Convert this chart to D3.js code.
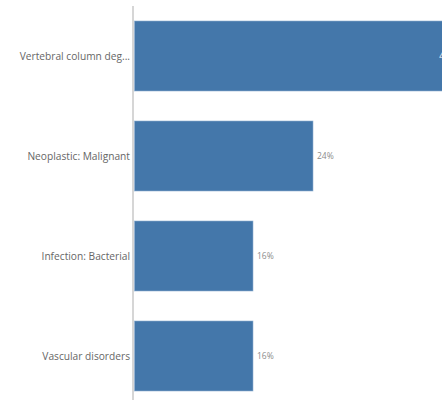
<!DOCTYPE html>
<html>
<head>
<meta charset="utf-8">
<script src="https://cdn.jsdelivr.net/npm/d3@7"></script>
<style>
  body{margin:0;overflow:hidden;background:#fff}
  svg{display:block}
</style>
</head>
<body>
<svg></svg>
<script>
var categories=["Vertebral column deg...","Neoplastic: Malignant","Infection: Bacterial","Vascular disorders"]
var values=[44,24,16,16]

var svg=d3.select("svg")
svg.attr("width",442).attr("height",400)

var x0=133
var scaleX=d3.scaleLinear()
      .domain([0,44])
      .range([x0,x0+330])
var scaleY=d3.scaleBand()
      .domain(categories)
      .range([6,406])
      .paddingInner(0.3)
      .paddingOuter(0.15)

// axis line on the left
svg.append("line")
   .attr("x1",x0).attr("x2",x0)
   .attr("y1",6).attr("y2",400)
   .attr("stroke","#c8c8c8")
   .attr("stroke-width",1.5)

var groups=svg.selectAll("g.bar")
   .data(values)
   .enter()
   .append("g")
   .attr("class","bar")

groups.append("rect")
      .attr("x",scaleX(0)+1.5)
      .attr("y",(d,i)=>scaleY(categories[i]))
      .attr("width",d=>scaleX(d)-scaleX(0)-1.5)
      .attr("height",scaleY.bandwidth())
      .attr("fill","#4477aa")
      .attr("stroke","#8fb0d0")
      .attr("stroke-width",0.6)

groups.append("text")
      .text((d,i)=>categories[i])
      .attr("x",x0-3)
      .attr("y",(d,i)=>scaleY(categories[i])+scaleY.bandwidth()/2)
      .attr("dy","0.35em")
      .attr("text-anchor","end")
      .style("font-family","'Open Sans', sans-serif")
      .style("font-size","10.2px")
      .style("fill","#666666")

// value labels: inside the bar if it is long, outside otherwise
groups.append("text")
      .text(d=>d+"%")
      .attr("x",d=>d>30 ? scaleX(d)-7 : scaleX(d)+4)
      .attr("y",(d,i)=>scaleY(categories[i])+scaleY.bandwidth()/2)
      .attr("dy","0.35em")
      .attr("text-anchor",d=>d>30 ? "end" : "start")
      .style("font-family","'Open Sans', sans-serif")
      .style("font-size","8.5px")
      .style("fill",d=>d>30 ? "#ffffff" : "#8c8c8c")
</script>
</body>
</html>
